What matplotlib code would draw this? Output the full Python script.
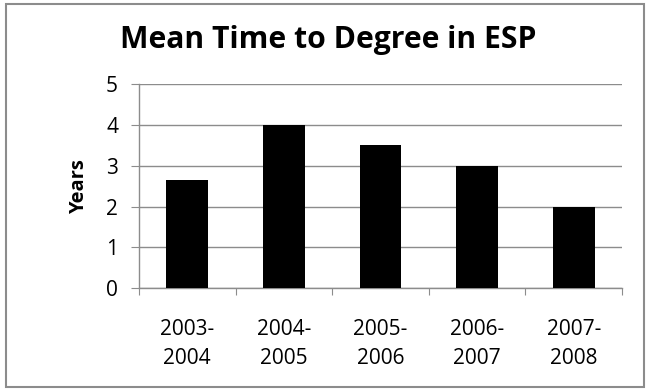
import matplotlib
matplotlib.use("Agg")
import matplotlib.pyplot as plt
from matplotlib.patches import Rectangle

# chart data
periods = ["2003-\n2004", "2004-\n2005", "2005-\n2006", "2006-\n2007", "2007-\n2008"]
mean_years = [2.65, 4.0, 3.5, 3.0, 2.0]
y_ticks = [0, 1, 2, 3, 4, 5]

plt.rcParams['font.family'] = ['Open Sans', 'DejaVu Sans']

fig = plt.figure(figsize=(6.46, 3.91), dpi=100)
ax = fig.add_axes([0.215, 0.263, 0.748, 0.522])

x = range(len(periods))
ax.bar(x, mean_years, width=0.43, color='black', zorder=3)

ax.set_xlim(-0.5, len(periods) - 0.5)
ax.set_ylim(0, 5)
ax.set_yticks(y_ticks)
ax.yaxis.grid(True, color='#8c8c8c', linewidth=1.0, zorder=0)

# category boundary ticks, labels centered under bars
ax.set_xticks([i - 0.5 for i in range(len(periods) + 1)])
ax.set_xticklabels([])
ax.set_xticks(list(x), minor=True)
ax.set_xticklabels(periods, minor=True, fontsize=15, linespacing=1.5)
ax.tick_params(axis='x', which='minor', length=0, pad=22)
ax.tick_params(axis='x', which='major', length=5, color='#8c8c8c')
ax.tick_params(axis='y', length=6, color='#8c8c8c', labelsize=15, pad=9)

for side in ['top', 'right']:
    ax.spines[side].set_visible(False)
for side in ['left', 'bottom']:
    ax.spines[side].set_color('#8c8c8c')
    ax.spines[side].set_linewidth(1.0)

ax.set_ylabel("Years", fontsize=14.5, fontweight='bold', labelpad=12)
fig.text(0.508, 0.897, "Mean Time to Degree in ESP", fontsize=21.7,
         fontweight='bold', ha='center', va='center')

# outer chart border
fig.patches.append(Rectangle((6 / 646, 4 / 391), 638 / 646, 383 / 391,
                             transform=fig.transFigure, fill=False,
                             edgecolor='#8c8c8c', linewidth=1.5))

fig.savefig("out.png", dpi=100)
